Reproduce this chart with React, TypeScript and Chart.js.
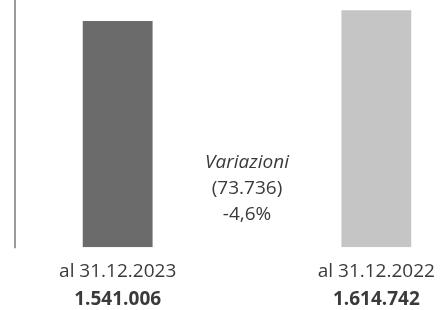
import React, { useEffect, useRef } from "react";
import { Chart, registerables } from "chart.js";

Chart.register(...registerables);

const categories = ["al 31.12.2023", "", "al 31.12.2022"];
const values: (number | null)[] = [1541006, null, 1614742];
const valueLabels = ["1.541.006", "", "1.614.742"];
const changeLines = ["Variazioni", "(73.736)", "-4,6%"];
const barColors = ["#6b6b6b", "rgba(0,0,0,0)", "#c5c5c5"];
const yMax = 1685000;

const FONT = "'Open Sans', 'Noto Sans', sans-serif";
const TEXT = "#3a3a3a";

const overlay = {
  id: "overlay",
  afterDraw(chart: any) {
    const { ctx, chartArea } = chart;
    const x = chart.scales.x;
    ctx.save();
    // left rule
    ctx.strokeStyle = "#7a7a7a";
    ctx.lineWidth = 1.5;
    ctx.beginPath();
    ctx.moveTo(15, 0);
    ctx.lineTo(15, chartArea.bottom + 1);
    ctx.stroke();
    // bold values under categories
    ctx.fillStyle = TEXT;
    ctx.textAlign = "center";
    ctx.textBaseline = "middle";
    ctx.font = `bold 19px ${FONT}`;
    valueLabels.forEach((t, i) => {
      if (t) ctx.fillText(t, x.getPixelForValue(i), chartArea.bottom + 52);
    });
    // change text in the middle
    const cx = x.getPixelForValue(1);
    changeLines.forEach((t, i) => {
      ctx.font = i === 0 ? `italic 19px ${FONT}` : `19px ${FONT}`;
      ctx.fillText(t, cx, 163 + i * 26);
    });
    ctx.restore();
  },
};

export default function App() {
  const ref = useRef<HTMLCanvasElement | null>(null);
  useEffect(() => {
    if (!ref.current) return;
    const chart = new Chart(ref.current, {
      type: "bar",
      data: {
        labels: categories,
        datasets: [
          {
            data: values,
            backgroundColor: barColors,
            borderWidth: 0,
            categoryPercentage: 1,
            barPercentage: 0.54,
          },
        ],
      },
      options: {
        animation: false,
        responsive: true,
        maintainAspectRatio: false,
        layout: { padding: { left: 53, right: 1, top: 0, bottom: 22 } },
        plugins: { legend: { display: false }, tooltip: { enabled: false } },
        scales: {
          x: {
            grid: { display: false },
            border: { display: false },
            ticks: {
              color: TEXT,
              font: { family: FONT, size: 19 },
              padding: 5,
              maxRotation: 0,
              autoSkip: false,
            },
          },
          y: { display: false, min: 0, max: yMax },
        },
      },
      plugins: [overlay],
    });
    return () => chart.destroy();
  }, []);
  return (
    <div style={{ position: "fixed", left: 0, top: 0, width: 442, height: 310, background: "#fff" }}>
      <canvas ref={ref} />
    </div>
  );
}
